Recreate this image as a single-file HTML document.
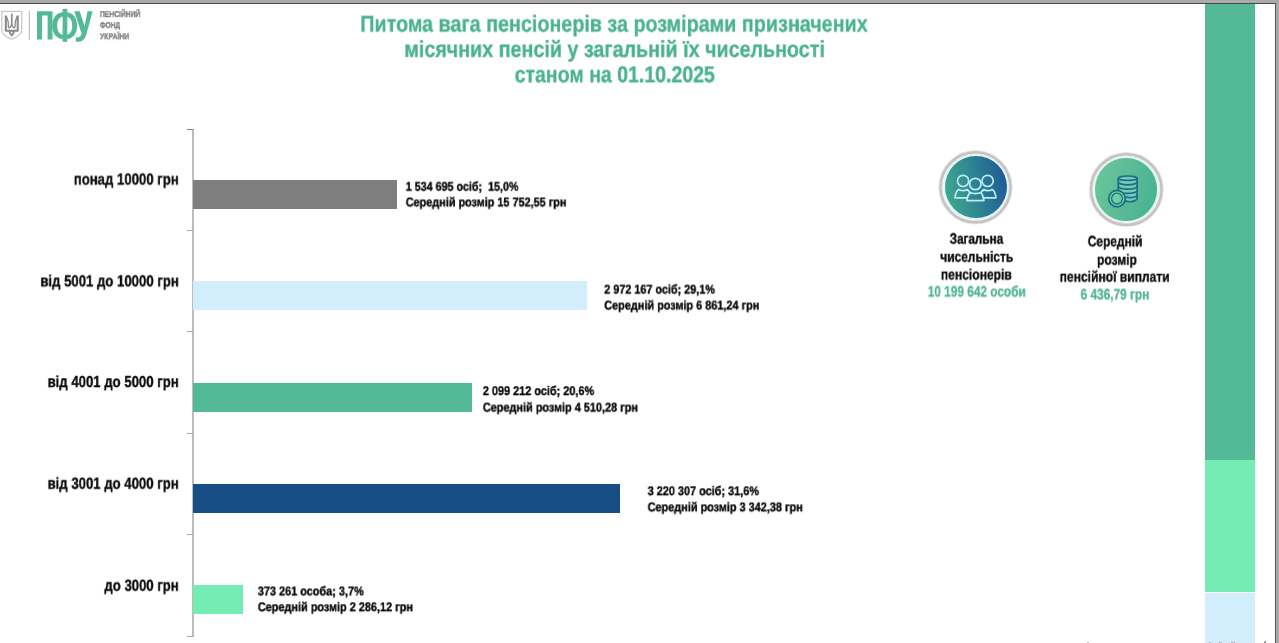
<!DOCTYPE html>
<html lang="uk">
<head>
<meta charset="utf-8">
<title>Питома вага пенсіонерів</title>
<style>
html,body{margin:0;padding:0;background:#fff;}
body{width:1279px;height:643px;position:relative;overflow:hidden;font-family:"Liberation Sans",sans-serif;}
.t{position:absolute;white-space:pre;font-weight:bold;line-height:1;transform-origin:0 0;font-family:"Liberation Sans",sans-serif;-webkit-text-stroke:0.35px currentColor;will-change:transform;text-rendering:geometricPrecision;}
.bar{position:absolute;left:193px;height:28.5px;}
.tick{position:absolute;left:186.5px;width:6px;height:1px;background:#a6a6a6;}
.axis{position:absolute;left:192px;top:129px;width:2px;height:507.5px;background:#bcbcbc;}
.topbar{position:absolute;left:0;top:0;width:1279px;height:3px;background:#ababab;}
.topline{position:absolute;left:0;top:3px;width:1276px;height:1px;background:#484848;}
.rline{position:absolute;left:1275px;top:3px;width:1.3px;height:640px;background:#555;}
.rgray{position:absolute;left:1276.3px;top:0;width:3px;height:643px;background:#a9a9a9;}
.strip{position:absolute;left:1205.2px;width:49.5px;}
</style>
</head>
<body>
<div class="topbar"></div><div class="topline"></div>
<div class="rgray"></div><div class="rline"></div>

<!-- right colour strip -->
<div class="strip" style="top:4px;height:455.7px;background:#53B997"></div>
<div class="strip" style="top:459.7px;height:132.8px;background:#74ECB3"></div>
<div class="strip" style="top:592.5px;height:51px;background:#D2EDFB"></div>

<!-- logo -->
<svg style="position:absolute;left:0;top:0" width="160" height="50" viewBox="0 0 160 50">
  <path d="M1.8 11.3 H21.7 V30.5 C21.7 34.5 17 37 11.7 39.3 C6.4 37 1.8 34.5 1.8 30.5 Z" fill="#fff" stroke="#c6c6c6" stroke-width="1.2"/>
  <g fill="none" stroke="#8a8a8a" stroke-linejoin="round">
    <path d="M5.8 15.6 V30.7 H17.7 V15.6" stroke-width="2.1"/>
    <path d="M6.2 16.2 C8.2 20 8.8 24 8.5 27.4 M17.3 16.2 C15.3 20 14.7 24 15 27.4" stroke-width="1.4"/>
    <path d="M11.75 13.6 V26" stroke-width="1.7"/>
    <path d="M8.4 27.6 C9.6 28.2 10.9 27 11.75 24.8 C12.6 27 13.9 28.2 15.1 27.6" stroke-width="1.5"/>
    <path d="M9 31 C9.4 33.6 10.5 35 11.75 35.9 C13 35 14.1 33.6 14.5 31 Z" stroke-width="1.2" fill="#9a9a9a"/>
  </g>
  <circle cx="11.75" cy="32.6" r="0.8" fill="#fff"/>
  <rect x="28.8" y="10.6" width="1" height="29.2" fill="#b4b4b4"/>
  <g fill="#53B997">
    <path d="M37 11.3 H52.5 V39.5 H47.6 V15.6 H42 V39.5 H37 Z"/>
    <rect x="62.6" y="8.8" width="4.7" height="33"/>
    <path fill-rule="evenodd" d="M64.7 12.1 C72.5 12.1 77.1 17.3 77.1 25.7 C77.1 34.1 72.5 39.3 64.7 39.3 C56.9 39.3 52.3 34.1 52.3 25.7 C52.3 17.3 56.9 12.1 64.7 12.1 Z M64.7 16.2 C60 16.2 57.2 19.6 57.2 25.7 C57.2 31.8 60 35.2 64.7 35.2 C69.4 35.2 72.2 31.8 72.2 25.7 C72.2 19.6 69.4 16.2 64.7 16.2 Z"/>
    <path d="M74.3 11.3 H79.7 L84.6 26.2 L87.5 11.3 H92.6 L86.6 33.6 C85 39.4 82.6 41.7 78.4 41.7 H75.8 V37.4 H77.6 C79.6 37.4 80.8 36.4 81.6 33.6 Z"/>
  </g>
</svg>

<!-- chart -->
<div class="axis"></div>
<div class="tick" style="top:128.5px;background:#7e7e7e"></div>
<div class="tick" style="top:229.9px"></div>
<div class="tick" style="top:331.3px"></div>
<div class="tick" style="top:432.7px"></div>
<div class="tick" style="top:534.1px"></div>
<div class="tick" style="top:635.5px"></div>
<div class="bar" style="top:180.1px;width:204.0px;background:#7F7F7F"></div>
<div class="bar" style="top:281.3px;width:393.8px;background:#D2EDFB"></div>
<div class="bar" style="top:383.3px;width:278.8px;background:#53B997"></div>
<div class="bar" style="top:484.1px;width:426.8px;background:#174E86"></div>
<div class="bar" style="top:585.1px;width:49.6px;background:#74ECB3"></div>

<!-- icons -->
<svg style="position:absolute;left:930px;top:145px" width="250" height="90" viewBox="930 145 250 90">
  <circle cx="975.5" cy="187.3" r="35" fill="#fff" stroke="#e9e6e7" stroke-width="4.4"/>
  <circle cx="975.5" cy="187.3" r="35" fill="none" stroke="#c6c2c3" stroke-width="2.4"/>
  <circle cx="975.5" cy="187.3" r="32.8" fill="#e2fafa"/>
  <circle cx="1126.3" cy="189.6" r="35.3" fill="#fff" stroke="#e9e6e7" stroke-width="4.4"/>
  <circle cx="1126.3" cy="189.6" r="35.3" fill="none" stroke="#c6c2c3" stroke-width="2.4"/>
  <circle cx="1126.3" cy="189.6" r="33" fill="#e0faf0"/>
</svg>
<div style="position:absolute;left:944.5px;top:156.3px;width:62px;height:62px;border-radius:50%;background:linear-gradient(78.7deg,#40A88E 6.6%,#2E8393 50%,#1F5B97 93.4%)"></div>
<div style="position:absolute;left:1095.1px;top:158.4px;width:62.4px;height:62.4px;border-radius:50%;background:linear-gradient(106.7deg,#6EC69C 0%,#4CB493 83.8%)"></div>
<svg style="position:absolute;left:930px;top:145px" width="250" height="90" viewBox="930 145 250 90">
  <g fill="none" stroke="#b9eef4" stroke-width="1.7" stroke-linejoin="round" stroke-linecap="round">
    <circle cx="963.1" cy="180.9" r="5.6"/>
    <circle cx="987.6" cy="180.9" r="5.6"/>
    <path d="M967 197.8 H955 C955.3 194 956.6 191 958.7 189.4 C961 190.8 965 190.8 967.4 189.6 L969.9 192.6"/>
    <path d="M983.7 197.8 H995.9 C995.6 194 994.3 191 992.2 189.4 C989.9 190.8 985.9 190.8 983.5 189.6 L981 192.6"/>
    <circle cx="975.3" cy="184" r="5.7"/>
    <path d="M969.9 192.6 C972.5 194 978.3 194 981 192.6 C982.7 195 983.6 198 983.9 200.6 H966.8 C967.1 198 968 195 969.9 192.6 Z"/>
  </g>
  <g fill="none" stroke="#1E6C80" stroke-width="1.7">
    <path d="M1118.3 178.2 V199 C1121 202.6 1134.4 202.6 1137.1 199 V178.2 Z" fill="#72cbbb" stroke="none"/>
    <ellipse cx="1127.7" cy="178.2" rx="9.4" ry="2.2" fill="#72cbbb"/>
    <path d="M1118.3 178.2 V199.5 M1137.1 178.2 V199"/>
    <path d="M1118.3 182.4 C1121 185.6 1134.4 185.6 1137.1 182.4"/>
    <path d="M1118.3 186.7 C1121 189.9 1134.4 189.9 1137.1 186.7"/>
    <path d="M1118.3 191 C1121 194.2 1134.4 194.2 1137.1 191"/>
    <path d="M1122 195.4 C1126 198.3 1134.4 198.4 1137.1 195.2"/>
    <path d="M1124 200.3 C1128 202.5 1134.6 202.2 1137.1 199"/>
    <circle cx="1117" cy="198.6" r="8.3" fill="#6fcfa4"/>
    <circle cx="1117" cy="198.6" r="5.4" stroke-width="1.3"/>
  </g>
</svg>

<!-- cropped marks at bottom edge -->
<div style="position:absolute;left:1087px;top:641.5px;width:2px;height:2px;background:#b5b5b5"></div>
<div style="position:absolute;left:1209px;top:641.5px;width:2px;height:2px;background:#a9b8c0"></div>
<div style="position:absolute;left:1219px;top:641.5px;width:3px;height:2px;background:#a9b8c0"></div>
<div style="position:absolute;left:1231px;top:641.5px;width:4px;height:2px;background:#a9b8c0"></div>
<div style="position:absolute;left:1264px;top:640.5px;width:2px;height:3px;background:#a0a0a0"></div>

<!-- text -->
<div class="t" style="left:360px;top:12px;font-size:23px;color:#4BB290;transform:translate(0.29px,0.54px) scale(0.8578,1.0)">Питома вага пенсіонерів за розмірами призначених</div>
<div class="t" style="left:404px;top:37px;font-size:23px;color:#4BB290;transform:translate(0.29px,0.84px) scale(0.8564,1.0)">місячних пенсій у загальній їх чисельності</div>
<div class="t" style="left:514px;top:63px;font-size:23px;color:#4BB290;transform:translate(0.65px,0.24px) scale(0.8477,1.0)">станом на 01.10.2025</div>
<div class="t" style="left:73px;top:172px;font-size:16.0px;color:#0a0a0a;transform:translate(0.73px,0.55px) scale(0.8224,1.0)">понад 10000 грн</div>
<div class="t" style="left:40px;top:274px;font-size:16.0px;color:#0a0a0a;transform:translate(0.33px,0.35px) scale(0.8220,1.0)">від 5001 до 10000 грн</div>
<div class="t" style="left:47px;top:375px;font-size:16.0px;color:#0a0a0a;transform:translate(0.53px,0.05px) scale(0.8227,1.0)">від 4001 до 5000 грн</div>
<div class="t" style="left:47px;top:476px;font-size:16.0px;color:#0a0a0a;transform:translate(0.53px,0.75px) scale(0.8227,1.0)">від 3001 до 4000 грн</div>
<div class="t" style="left:104px;top:578px;font-size:16.0px;color:#0a0a0a;transform:translate(0.35px,0.75px) scale(0.8214,1.0)">до 3000 грн</div>
<div class="t" style="left:405px;top:180px;font-size:12.6px;color:#050505;transform:translate(0.75px,0.66px) scale(0.8528,1.0)">1 534 695 осіб;  15,0%</div>
<div class="t" style="left:405px;top:196px;font-size:12.6px;color:#050505;transform:translate(0.75px,0.36px) scale(0.8623,1.0)">Середній розмір 15 752,55 грн</div>
<div class="t" style="left:604px;top:283px;font-size:12.6px;color:#050505;transform:translate(0.25px,0.56px) scale(0.8597,1.0)">2 972 167 осіб; 29,1%</div>
<div class="t" style="left:604px;top:299px;font-size:12.6px;color:#050505;transform:translate(0.25px,0.46px) scale(0.8648,1.0)">Середній розмір 6 861,24 грн</div>
<div class="t" style="left:482px;top:385px;font-size:12.6px;color:#050505;transform:translate(0.85px,0.06px) scale(0.8648,1.0)">2 099 212 осіб; 20,6%</div>
<div class="t" style="left:482px;top:401px;font-size:12.6px;color:#050505;transform:translate(0.85px,0.56px) scale(0.8648,1.0)">Середній розмір 4 510,28 грн</div>
<div class="t" style="left:647px;top:485px;font-size:12.6px;color:#050505;transform:translate(0.65px,0.16px) scale(0.8648,1.0)">3 220 307 осіб; 31,6%</div>
<div class="t" style="left:647px;top:501px;font-size:12.6px;color:#050505;transform:translate(0.65px,0.26px) scale(0.8648,1.0)">Середній розмір 3 342,38 грн</div>
<div class="t" style="left:257px;top:585px;font-size:12.6px;color:#050505;transform:translate(0.85px,0.36px) scale(0.8648,1.0)">373 261 особа; 3,7%</div>
<div class="t" style="left:257px;top:601px;font-size:12.6px;color:#050505;transform:translate(0.85px,0.16px) scale(0.8648,1.0)">Середній розмір 2 286,12 грн</div>
<div class="t" style="left:949px;top:231px;font-size:15.0px;color:#0a0a0a;transform:translate(0.65px,0.65px) scale(0.7810,1.0)">Загальна</div>
<div class="t" style="left:940px;top:249px;font-size:15.0px;color:#0a0a0a;transform:translate(0.25px,0.75px) scale(0.7975,1.0)">чисельність</div>
<div class="t" style="left:940px;top:267px;font-size:15.0px;color:#0a0a0a;transform:translate(0.84px,0.55px) scale(0.8058,1.0)">пенсіонерів</div>
<div class="t" style="left:927px;top:284px;font-size:15.0px;color:#52B594;transform:translate(0.80px,0.55px) scale(0.7881,1.0)">10 199 642 особи</div>
<div class="t" style="left:1087px;top:234px;font-size:15.0px;color:#0a0a0a;transform:translate(0.75px,0.35px) scale(0.7950,1.0)">Середній</div>
<div class="t" style="left:1096px;top:252px;font-size:15.0px;color:#0a0a0a;transform:translate(0.95px,0.65px) scale(0.8045,1.0)">розмір</div>
<div class="t" style="left:1059px;top:269px;font-size:15.0px;color:#0a0a0a;transform:translate(0.65px,0.65px) scale(0.8043,1.0)">пенсійної виплати</div>
<div class="t" style="left:1080px;top:287px;font-size:15.0px;color:#52B594;transform:translate(0.60px,0.35px) scale(0.7900,1.0)">6 436,79 грн</div>
<div class="t" style="left:99px;top:9px;font-size:8.5px;color:#808080;transform:translate(0.95px,0.95px) scale(0.7937,1.0)">ПЕНСІЙНИЙ</div>
<div class="t" style="left:99px;top:20px;font-size:8.5px;color:#808080;transform:translate(0.95px,0.95px) scale(0.7729,1.0)">ФОНД</div>
<div class="t" style="left:99px;top:32px;font-size:8.5px;color:#808080;transform:translate(0.95px,0.15px) scale(0.8079,1.0)">УКРАЇНИ</div>
</body>
</html>
